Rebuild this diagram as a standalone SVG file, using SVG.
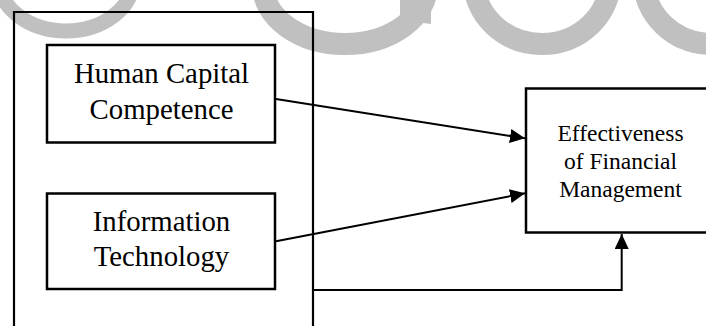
<svg xmlns="http://www.w3.org/2000/svg" width="706" height="326" viewBox="0 0 706 326">
  <style>
    .wm { fill: none; stroke: #c0c0c0; }
    .box { fill: #ffffff; stroke: #000000; stroke-width: 2.5; }
    .frame { fill: none; stroke: #000000; stroke-width: 2.2; }
    .lbl { font-family: "Liberation Serif", "Times New Roman", serif; fill: #000000; text-anchor: middle; }
    .big { font-size: 28.8px; }
    .small { font-size: 23.5px; }
    .conn { fill: none; stroke: #000000; stroke-width: 2; }
  </style>
  <defs>
    <marker id="arrow" markerUnits="userSpaceOnUse" markerWidth="16" markerHeight="15" refX="15" refY="7" orient="auto">
      <path d="M0,0 L15,7 L0,14 Z" fill="#000000"/>
    </marker>
  </defs>
  <rect x="0" y="0" width="706" height="326" fill="#ffffff"/>
  <g id="watermark">
    <ellipse class="wm" cx="66" cy="-20" rx="67" ry="51" stroke-width="15"/>
    <ellipse class="wm" cx="345" cy="-15" rx="82" ry="59" stroke-width="22"/>
    <polygon points="400,0 431,0 431,24 400,20" fill="#c0c0c0"/>
    <ellipse class="wm" cx="542" cy="-20" rx="68" ry="64" stroke-width="22"/>
    <ellipse class="wm" cx="712" cy="-20" rx="68" ry="64" stroke-width="22"/>
  </g>
  <g id="frame">
    <path class="frame" d="M14,330 L14,12 L313,12 L313,330"/>
  </g>
  <g id="human-capital">
    <rect class="box" x="47" y="45" width="228" height="97.5"/>
    <text class="lbl big" x="161.5" y="83">Human Capital</text>
    <text class="lbl big" x="161.5" y="119">Competence</text>
  </g>
  <g id="information-technology">
    <rect class="box" x="47" y="193.5" width="228" height="95.5"/>
    <text class="lbl big" x="161.5" y="231">Information</text>
    <text class="lbl big" x="161.5" y="265.5">Technology</text>
  </g>
  <g id="effectiveness">
    <rect class="box" x="526" y="88.5" width="186" height="144"/>
    <text class="lbl small" x="620.5" y="141">Effectiveness</text>
    <text class="lbl small" x="620.5" y="169">of Financial</text>
    <text class="lbl small" x="620.5" y="196.5">Management</text>
  </g>
  <g id="connectors">
    <line class="conn" x1="276" y1="99" x2="525" y2="138.3" marker-end="url(#arrow)"/>
    <line class="conn" x1="276" y1="241.3" x2="525" y2="193.3" marker-end="url(#arrow)"/>
    <path class="conn" d="M313,290 L621.7,290 L621.7,234" marker-end="url(#arrow)"/>
  </g>
</svg>
